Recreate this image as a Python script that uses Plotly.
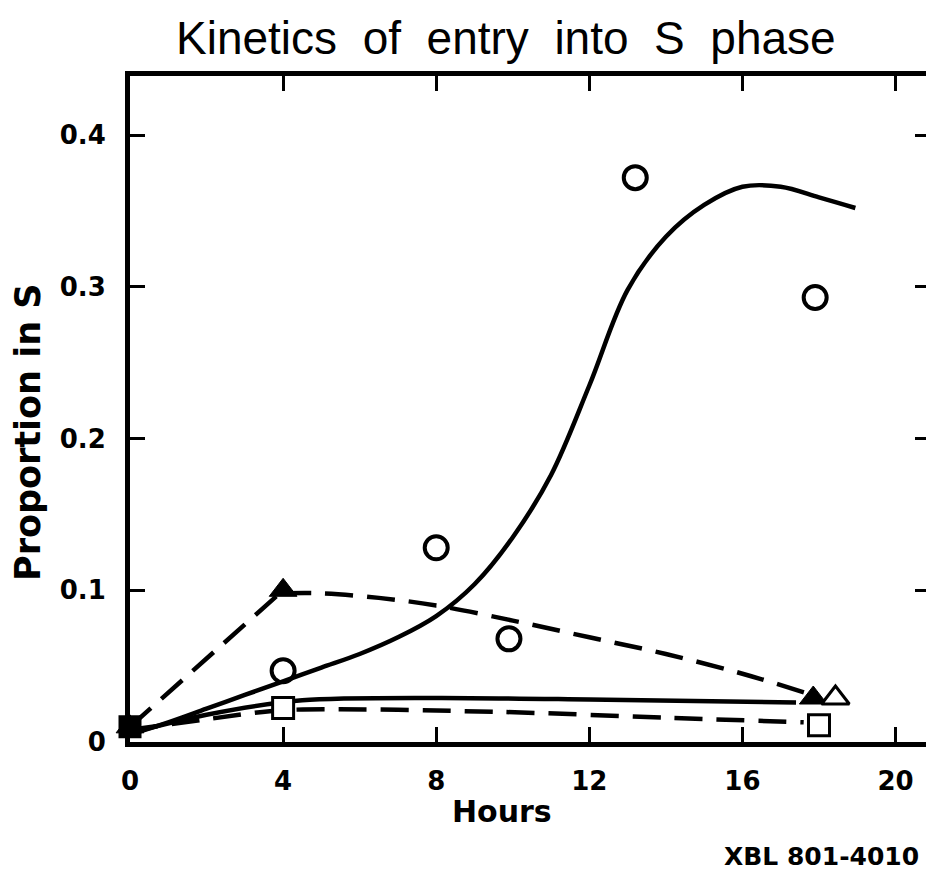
import plotly.graph_objects as go

# Data points
circle_x = [4, 8, 9.9, 13.2, 17.9]
circle_y = [0.047, 0.128, 0.068, 0.372, 0.293]
square_x = [0, 4, 18.0]
square_y = [0.010, 0.0224, 0.011]
tri_fill_x = [0, 4, 17.85]
tri_fill_y = [0.010, 0.100, 0.029]
tri_open_x = [18.43]
tri_open_y = [0.029]

# Fitted curves
curve1_x = [0, 1, 2, 3, 4, 5, 6, 7, 8, 9, 10, 11, 12, 13, 14, 15, 16, 17, 18, 18.95]
curve1_y = [0.005, 0.013, 0.022, 0.031, 0.040, 0.049, 0.058, 0.069, 0.083, 0.104, 0.135, 0.176,
            0.235, 0.298, 0.333, 0.354, 0.366, 0.366, 0.359, 0.352]
curve2a_x = [0, 4]
curve2a_y = [0.010, 0.100]
curve2b_x = [4, 5, 6.5, 8, 10, 12, 14, 16, 17.7]
curve2b_y = [0.098, 0.098, 0.095, 0.090, 0.080, 0.069, 0.058, 0.045, 0.032]
curve3_x = [0, 2, 4.5, 8, 12, 17.4]
curve3_y = [0.006, 0.018, 0.0275, 0.029, 0.028, 0.026]
curve4_x = [0, 2, 4, 9.7, 14, 17.6]
curve4_y = [0.008, 0.015, 0.021, 0.0198, 0.016, 0.013]

x_ticks = [0, 4, 8, 12, 16, 20]
y_ticks = [0, 0.1, 0.2, 0.3, 0.4]
y_labels = ["0", "0.1", "0.2", "0.3", "0.4"]

blk = "black"
DASH = "28px,14px"
fig = go.Figure()
fig.add_trace(go.Scatter(x=curve1_x, y=curve1_y, mode="lines", cliponaxis=False,
                         line=dict(color=blk, width=4.5, shape="spline", smoothing=1)))
fig.add_trace(go.Scatter(x=curve2a_x, y=curve2a_y, mode="lines", cliponaxis=False,
                         line=dict(color=blk, width=4.5, dash=DASH)))
fig.add_trace(go.Scatter(x=curve2b_x, y=curve2b_y, mode="lines", cliponaxis=False,
                         line=dict(color=blk, width=4.5, shape="spline", smoothing=1, dash=DASH)))
fig.add_trace(go.Scatter(x=curve3_x, y=curve3_y, mode="lines", cliponaxis=False,
                         line=dict(color=blk, width=4.5, shape="spline", smoothing=0.8)))
fig.add_trace(go.Scatter(x=curve4_x, y=curve4_y, mode="lines", cliponaxis=False,
                         line=dict(color=blk, width=4.5, shape="spline", smoothing=0.8, dash=DASH)))

fig.add_trace(go.Scatter(x=circle_x, y=circle_y, mode="markers", cliponaxis=False,
                         marker=dict(symbol="circle-open", size=23, color=blk, line=dict(width=4, color=blk))))
fig.add_trace(go.Scatter(x=square_x[1:], y=square_y[1:], mode="markers", cliponaxis=False,
                         marker=dict(symbol="square", size=21, color="white", line=dict(width=3, color=blk))))
fig.add_trace(go.Scatter(x=square_x[:1], y=square_y[:1], mode="markers", cliponaxis=False,
                         marker=dict(symbol="square", size=21, color=blk, line=dict(width=2, color=blk))))
fig.add_trace(go.Scatter(x=tri_fill_x, y=tri_fill_y, mode="markers", cliponaxis=False,
                         marker=dict(symbol="triangle-up", size=24, color=blk, line=dict(width=1, color=blk))))
fig.add_trace(go.Scatter(x=tri_open_x, y=tri_open_y, mode="markers", cliponaxis=False,
                         marker=dict(symbol="triangle-up", size=24, color="white", line=dict(width=3, color=blk))))

# page has an 8px body margin: figure is drawn from (8, 8)
OFF = 8
W, H = 934 - OFF, 873 - OFF
l, r, t, b = 130 - OFF, 4, 76 - OFF, 131

axis_font = dict(family="DejaVu Sans", size=26, color=blk, weight="bold")
fig.update_layout(
    width=W, height=H,
    margin=dict(l=l, r=r, t=t, b=b, autoexpand=False),
    paper_bgcolor="white", plot_bgcolor="white",
    showlegend=False,
    font=dict(family="DejaVu Sans", color=blk),
    xaxis=dict(range=[0, 20.9], tickvals=x_ticks, ticktext=[str(v) for v in x_ticks],
               ticks="inside", ticklen=15, tickwidth=3, tickcolor=blk,
               showline=True, linewidth=5, linecolor=blk, mirror="ticks",
               showgrid=False, zeroline=False, tickfont=axis_font, ticklabelstandoff=12),
    yaxis=dict(range=[0, 0.439], tickvals=y_ticks, ticktext=y_labels,
               ticks="inside", ticklen=15, tickwidth=3, tickcolor=blk,
               showline=True, linewidth=5, linecolor=blk, mirror="ticks",
               showgrid=False, zeroline=False, tickfont=axis_font, ticklabelstandoff=14),
)

pw, ph = W - l - r, H - t - b
def ann(text, px, py, font, angle=0):
    # px, py: page pixel coordinates of the text centre
    fx, fy = px - OFF, py - OFF
    fig.add_annotation(text=text, x=(fx - l) / pw, y=(H - b - fy) / ph,
                       xref="paper", yref="paper", xanchor="center", yanchor="middle",
                       showarrow=False, textangle=angle, font=font)

ann("Kinetics  of  entry  into  S  phase", 506, 38,
    dict(family="Liberation Sans Narrow, Liberation Sans", size=46, color=blk))
ann("Hours", 502, 811, dict(family="DejaVu Sans", size=30, color=blk, weight="bold"))
ann("Proportion in S", 28, 432, dict(family="DejaVu Sans", size=35, color=blk, weight="bold"), angle=-90)
ann("XBL 801-4010", 821, 856, dict(family="DejaVu Sans", size=25, color=blk, weight="bold"))

fig.write_html("out.html")
